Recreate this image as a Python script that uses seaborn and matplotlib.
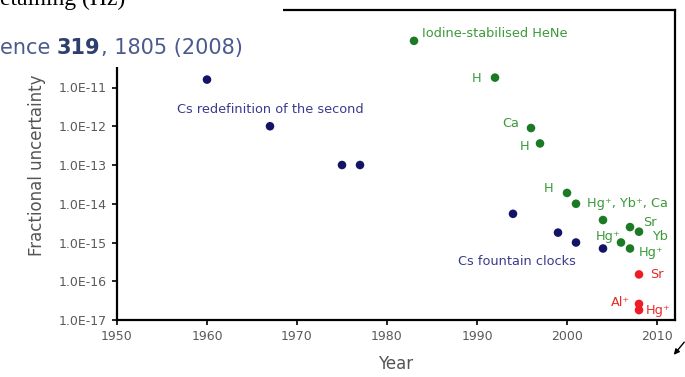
import matplotlib
matplotlib.use("Agg")
import matplotlib.pyplot as plt
import seaborn as sns
import pandas as pd
from matplotlib.patches import Rectangle

# ---------------- data ----------------
years_cs = [1960, 1967, 1975, 1977, 1994, 1999, 2001, 2004]
unc_cs = [1.6e-11, 1.0e-12, 1.0e-13, 1.0e-13, 5.5e-15, 1.8e-15, 1.0e-15, 7.0e-16]

years_opt = [1983, 1992, 1996, 1997, 2000, 2001, 2004, 2007, 2008, 2006, 2007]
unc_opt = [1.6e-10, 1.8e-11, 9.0e-13, 3.6e-13, 1.9e-14, 1.0e-14, 3.8e-15,
           2.5e-15, 1.9e-15, 1.0e-15, 7.0e-16]

years_new = [2008, 2008, 2008]
unc_new = [1.5e-16, 2.6e-17, 1.8e-17]

ytick_vals = [1e-17, 1e-16, 1e-15, 1e-14, 1e-13, 1e-12, 1e-11]
ytick_labels = ["1.0E-17", "1.0E-16", "1.0E-15", "1.0E-14", "1.0E-13", "1.0E-12", "1.0E-11"]
xtick_vals = [1950, 1960, 1970, 1980, 1990, 2000, 2010]

# label text, x, y, group, ha
label_text = ["Cs redefinition of the second", "Cs fountain clocks",
              "Iodine-stabilised HeNe", "H", "Ca", "H", "H", "Hg⁺, Yb⁺, Ca",
              "Sr", "Yb", "Hg⁺", "Hg⁺", "Sr", "Al⁺", "Hg⁺"]
label_x = [1967, 1994.4, 1983.9, 1990, 1993.7, 1995.3, 1997.9, 2002.2,
           2009.2, 2010.3, 2004.6, 2009.4, 2010.0, 2005.9, 2010.1]
label_y = [2.7e-12, 3.3e-16, 2.5e-10, 1.7e-11, 1.2e-12, 3.0e-13, 2.5e-14, 1.0e-14,
           3.3e-15, 1.45e-15, 1.45e-15, 5.4e-16, 1.5e-16, 2.9e-17, 1.8e-17]
label_group = ["cs", "cs", "opt", "opt", "opt", "opt", "opt", "opt",
               "opt", "opt", "opt", "opt", "new", "new", "new"]
label_ha = ["center", "center", "left", "center", "center", "center", "center", "left",
            "center", "center", "center", "center", "center", "center", "center"]

df = pd.DataFrame({
    "year": years_cs + years_opt + years_new,
    "unc": unc_cs + unc_opt + unc_new,
    "group": ["cs"] * len(years_cs) + ["opt"] * len(years_opt) + ["new"] * len(years_new),
})

marker_colors = {"cs": "#141466", "opt": "#1b7a24", "new": "#ee1c25"}
text_colors = {"cs": "#3a3a8e", "opt": "#3a9a3a", "new": "#e82a2a"}

# ---------------- style ----------------
sns.set_theme(style="white")
plt.rcParams["font.family"] = ["DejaVu Sans"]

fig = plt.figure(figsize=(6.85, 3.77), dpi=100)
ax = fig.add_axes([117 / 685, 1 - 320 / 377, (675 - 117) / 685, (320 - 10) / 377])

sns.scatterplot(data=df, x="year", y="unc", hue="group", palette=marker_colors,
                s=38, edgecolor="none", legend=False, ax=ax, zorder=3)

ax.set_yscale("log")
ax.set_xlim(1950, 2012)
ax.set_ylim(1e-17, 1e-9)
ax.set_yticks(ytick_vals)
ax.set_yticklabels(ytick_labels)
ax.minorticks_off()
ax.set_xticks(xtick_vals)
ax.set_xticklabels([str(v) for v in xtick_vals])

for sp in ax.spines.values():
    sp.set_color("black")
    sp.set_linewidth(1.6)

ax.tick_params(axis="both", which="major", direction="out", length=3.5, width=1.2,
               colors="black", labelcolor="#5a5a5a", labelsize=9, pad=4,
               left=True, bottom=True)

ax.set_xlabel("Year", fontsize=12, color="#555555", labelpad=8)
ax.set_ylabel("Fractional uncertainty", fontsize=12, color="#555555", labelpad=9)

for t, x, y, g, ha in zip(label_text, label_x, label_y, label_group, label_ha):
    ax.text(x, y, t, color=text_colors[g], fontsize=9.3, ha=ha, va="center",
            clip_on=False, zorder=4)

# ---------------- slide overlay (top-left) ----------------
fig.patches.append(Rectangle((0, 1 - 67 / 377), 283 / 685, 67 / 377,
                             transform=fig.transFigure, facecolor="white",
                             edgecolor="none", zorder=10))

fig.text(0.0, 1 - 5 / 377, "etaining (Hz)", fontsize=17, family="Liberation Serif",
         color="black", va="baseline", ha="left", zorder=11)

renderer = fig.canvas.get_renderer()
x0 = 0.0
yb = 1 - 54 / 377
parts = [("ence ", "normal", "#4a5a8c"), ("319", "bold", "#2e3f6e"),
         (", 1805 (2008)", "normal", "#4a5a8c")]
for txt, wt, col in parts:
    t = fig.text(x0, yb, txt, fontsize=15, fontweight=wt, color=col,
                 va="baseline", ha="left", zorder=11)
    bb = t.get_window_extent(renderer=renderer)
    x0 = bb.x1 / fig.bbox.width

# small arrow at lower right
ax.annotate("", xy=(672 / 685, 1 - 357 / 377), xytext=(686 / 685, 1 - 340 / 377),
            xycoords="figure fraction", textcoords="figure fraction",
            arrowprops=dict(arrowstyle="-|>", color="black", lw=1.0, mutation_scale=8),
            annotation_clip=False)

fig.savefig("out.png", dpi=100)
